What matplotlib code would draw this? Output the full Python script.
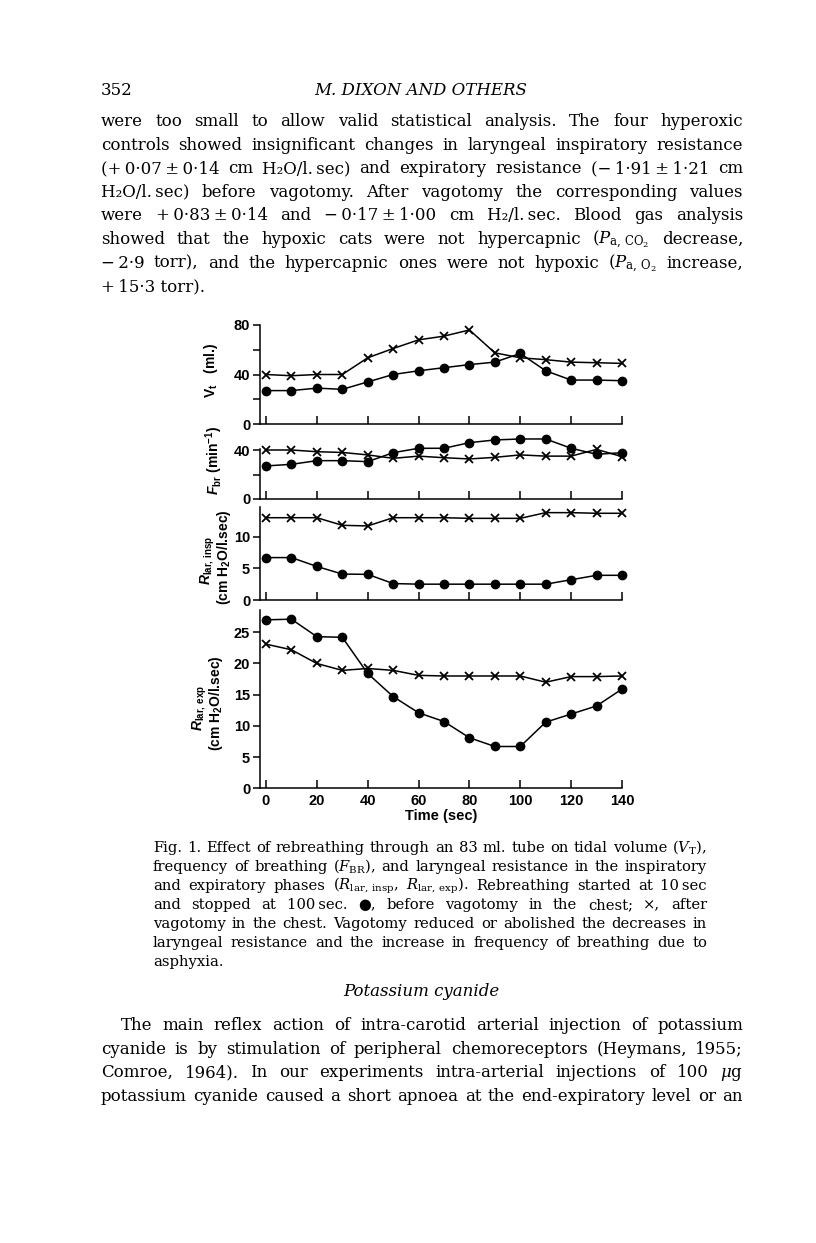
"""Page 352 with Fig. 1: rebreathing effects before / after vagotomy."""

import matplotlib

matplotlib.use("Agg")
import matplotlib.pyplot as plt

W, H = 816, 1243

# ---- chart data ----
time = [0, 10, 20, 30, 40, 50, 60, 70, 80, 90, 100, 110, 120, 130, 140]

vt_before = [27, 27, 29, 28, 34, 40, 43, 45.5, 48, 50, 57, 43, 35.5, 35.5, 35]
vt_after = [40, 39, 40, 40, 53.5, 61, 68, 71, 76, 57.5, 53.5, 52, 50, 49.5, 49]

fbr_before = [27, 28.3, 31.3, 31.3, 30.5, 37.8, 41.4, 41.4, 46, 48.2, 49, 49, 41.4, 36.5, 37.8]
fbr_after = [40, 40, 38.6, 38, 36, 33.2, 35, 33.7, 32.7, 34, 36, 35, 35, 40.5, 34.6]

rinsp_before = [6.7, 6.7, 5.3, 4.1, 4.05, 2.6, 2.5, 2.5, 2.5, 2.5, 2.5, 2.5, 3.2, 3.9, 3.9]
rinsp_after = [13, 13, 13, 11.8, 11.7, 13, 13, 13, 12.9, 12.9, 12.9, 13.8, 13.8, 13.7, 13.7]

rexp_before = [27, 27.1, 24.3, 24.2, 18.4, 14.7, 12.1, 10.7, 8.1, 6.7, 6.7, 10.6, 11.9, 13.2, 15.9]
rexp_after = [23.1, 22.2, 20, 18.9, 19.2, 18.9, 18.1, 18, 18, 18, 18, 17, 17.9, 17.9, 18]

x_ticks = [0, 20, 40, 60, 80, 100, 120, 140]

# ---- page text ----
header_left = "352"
header_center = "M. DIXON AND OTHERS"
body = [
    "were too small to allow valid statistical analysis. The four hyperoxic",
    "controls showed insignificant changes in laryngeal inspiratory resistance",
    "(+\u20090·07\u2009±\u20090·14 cm H₂O/l.\u2009sec) and expiratory resistance (−\u20091·91\u2009±\u20091·21 cm",
    "H₂O/l.\u2009sec) before vagotomy. After vagotomy the corresponding values",
    "were +\u20090·83\u2009±\u20090·14 and −\u20090·17\u2009±\u20091·00 cm H₂/l.\u2009sec. Blood gas analysis",
    "showed that the hypoxic cats were not hypercapnic ($P_{\\mathrm{a,\\,CO_2}}$ decrease,",
    "−\u20092·9 torr), and the hypercapnic ones were not hypoxic ($P_{\\mathrm{a,\\,O_2}}$ increase,",
    "+\u200915·3 torr).",
]
caption = [
    "Fig. 1. Effect of rebreathing through an 83 ml. tube on tidal volume ($V_{\\mathrm{T}}$),",
    "frequency of breathing ($F_{\\mathrm{BR}}$), and laryngeal resistance in the inspiratory",
    "and expiratory phases ($R_{\\mathrm{lar,\\,insp}}$, $R_{\\mathrm{lar,\\,exp}}$). Rebreathing started at 10\u2009sec",
    "and stopped at 100\u2009sec. ●, before vagotomy in the chest; ×, after",
    "vagotomy in the chest. Vagotomy reduced or abolished the decreases in",
    "laryngeal resistance and the increase in frequency of breathing due to",
    "asphyxia.",
]
subhead = "Potassium cyanide"
para = [
    "The main reflex action of intra-carotid arterial injection of potassium",
    "cyanide is by stimulation of peripheral chemoreceptors (Heymans, 1955;",
    "Comroe, 1964). In our experiments intra-arterial injections of 100 $\\mu$g",
    "potassium cyanide caused a short apnoea at the end-expiratory level or an",
]

plt.rcParams["mathtext.fontset"] = "custom"
plt.rcParams["mathtext.rm"] = "Liberation Sans:bold"
plt.rcParams["mathtext.it"] = "Liberation Sans:italic:bold"
plt.rcParams["mathtext.bf"] = "Liberation Sans:bold"

fig = plt.figure(figsize=(W / 100, H / 100), dpi=100)
renderer = fig.canvas.get_renderer()

serif = dict(family=["DejaVu Serif", "DejaVu Sans"], math_fontfamily="dejavuserif", color="black")
sans = dict(family="Liberation Sans", weight="bold", math_fontfamily="custom", color="black")


def fit_size(lines, width, base=10.0):
    # font size at which the longest justified line just fills the measure
    widest = 0
    for line in lines[:-1]:
        t = fig.text(0, 0, line, fontsize=base, **serif)
        widest = max(widest, t.get_window_extent(renderer).width)
        t.remove()
    return base * width / widest * 0.985


def put_line(line, x0, x1, y, justify=True, **kw):
    words = line.split(" ")
    if not justify or len(words) == 1:
        fig.text(x0 / W, 1 - y / H, line, va="baseline", **kw)
        return
    texts = [fig.text(0, 1 - y / H, w, va="baseline", **kw) for w in words]
    widths = [t.get_window_extent(renderer).width for t in texts]
    gap = (x1 - x0 - sum(widths)) / (len(texts) - 1)
    x = x0
    for t, w in zip(texts, widths):
        t.set_x(x / W)
        x += w + gap


body_fs = fit_size(body + para[:2] + [para[-1], ""], 743 - 101)
cap_fs = fit_size(caption, 707 - 153)

# header + first paragraph
fig.text(101 / W, 1 - 95 / H, header_left, va="baseline", fontsize=body_fs, **serif)
fig.text(421 / W, 1 - 95 / H, header_center, va="baseline", ha="center",
         fontsize=body_fs, style="italic", **serif)
for i, line in enumerate(body):
    put_line(line, 101, 743, 126 + i * 23.6, justify=i < len(body) - 1, fontsize=body_fs, **serif)

# caption
for i, line in enumerate(caption):
    put_line(line, 153, 707, 852 + i * 19.0, justify=i < len(caption) - 1, fontsize=cap_fs, **serif)

fig.text(421 / W, 1 - 996 / H, subhead, va="baseline", ha="center",
         fontsize=body_fs, style="italic", **serif)
for i, line in enumerate(para):
    put_line(line, 121 if i == 0 else 101, 743, 1030 + i * 23.6, fontsize=body_fs, **serif)

# ---- chart panels ----
X_LEFT, X0_PX, PX_PER_SEC = -2.4, 266, (622 - 266) / 140
X_RIGHT = 140.5
TICK_FS = 10.5

panels = [
    # before, after, y-top, spine-top, zero px, px per unit, major, minor
    (vt_before, vt_after, 82, 80, 424, 99 / 80, [0, 40, 80], [20, 60]),
    (fbr_before, fbr_after, 52, 41, 499, 49 / 40, [0, 40], [20]),
    (rinsp_before, rinsp_after, 15.5, 14.7, 600, 63.3 / 10, [0, 5, 10], []),
    (rexp_before, rexp_after, 29, 28.6, 788.3, 156 / 25, [0, 5, 10, 15, 20, 25], []),
]

left_px = X0_PX + X_LEFT * PX_PER_SEC
right_px = X0_PX + X_RIGHT * PX_PER_SEC
for k, (before, after, ytop, stop, y0, ppu, major, minor) in enumerate(panels):
    top_px = y0 - ytop * ppu
    ax = fig.add_axes([left_px / W, 1 - y0 / H, (right_px - left_px) / W, (y0 - top_px) / H])
    ax.patch.set_alpha(0)
    ax.plot(time, after, color="black", lw=1.1, marker="x", ms=5.5, mew=1.3, clip_on=False)
    ax.plot(time, before, color="black", lw=1.1, marker="o", ms=6, clip_on=False)
    ax.set_xlim(X_LEFT, X_RIGHT)
    ax.set_ylim(0, ytop)
    for side in ("top", "right"):
        ax.spines[side].set_visible(False)
    ax.spines["left"].set_bounds(0, stop)
    ax.spines["bottom"].set_bounds(X_LEFT, 140)
    for side in ("left", "bottom"):
        ax.spines[side].set_linewidth(1.1)
    ax.set_xticks(x_ticks)
    ax.tick_params(axis="x", direction="in", length=6, width=1.1, pad=4)
    ax.set_yticks(major)
    ax.set_yticks(minor, minor=True)
    ax.tick_params(axis="y", which="both", direction="out", length=5, width=1.1, pad=2)
    for lab in ax.get_yticklabels() + ax.get_xticklabels():
        lab.set_fontfamily("Liberation Sans")
        lab.set_fontweight("bold")
        lab.set_fontsize(TICK_FS)
    if k < len(panels) - 1:
        ax.set_xticklabels([])
    else:
        ax.set_xlabel("Time (sec)", fontsize=TICK_FS, fontfamily="Liberation Sans",
                      fontweight="bold", labelpad=1)

# y-axis labels (rotated)
ylabels = [
    ("$\\rm V_t$   (ml.)", 211, 370),
    ("$F_{\\rm br}$ (min$^{-1}$)", 214, 460),
    ("$R_{\\rm lar,\\,insp}$", 208, 560),
    ("(cm $\\rm H_2O$/l.sec)", 224, 557),
    ("$R_{\\rm lar,\\,exp}$", 200, 708),
    ("(cm $\\rm H_2O$/l.sec)", 216, 703),
]
for txt, xp, yp in ylabels:
    fig.text(xp / W, 1 - yp / H, txt, rotation=90, ha="center", va="center",
             fontsize=10, **sans)

fig.savefig("out.png", dpi=100, facecolor="white")
